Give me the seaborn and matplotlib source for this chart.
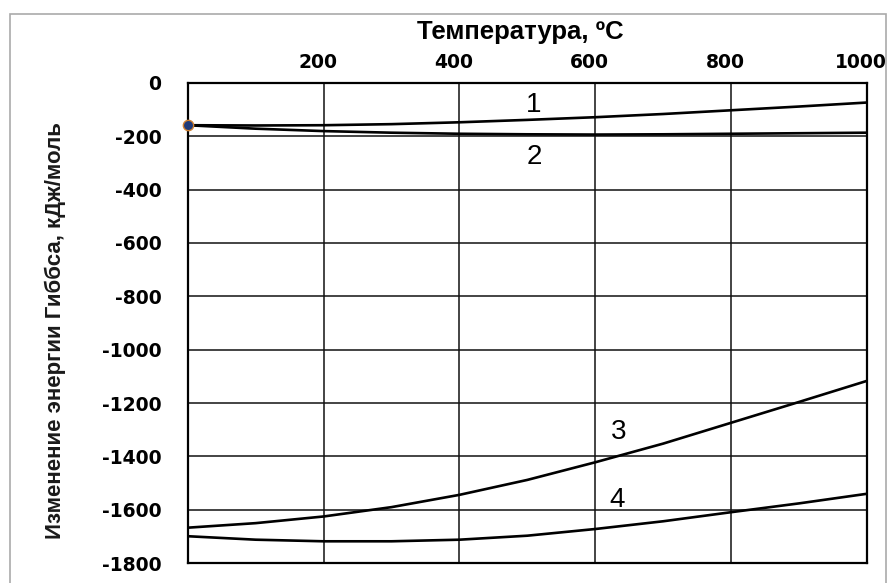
import matplotlib.pyplot as plt
import matplotlib.patches as mpatches
import matplotlib.transforms as mtransforms
import pandas as pd
import seaborn as sns

temperature = [0, 100, 200, 300, 400, 500, 600, 700, 800, 900, 1000]
curve_1 = [-159, -160, -159, -155, -148, -139, -129, -117, -103, -89, -74]
curve_2 = [-159, -172, -181, -187, -191, -193, -194, -193, -191, -189, -187]
curve_3 = [-1667, -1650, -1625, -1590, -1544, -1488, -1422, -1352, -1274, -1196, -1117]
curve_4 = [-1699, -1712, -1718, -1718, -1712, -1697, -1672, -1643, -1609, -1576, -1540]
curve_names = ['1', '2', '3', '4']
label_pos = [(510, -84), (510, -277), (635, -1309), (632, -1562)]

x_ticks = [200, 400, 600, 800, 1000]
y_ticks = list(range(-1800, 1, 200))

rows = []
for name, vals in zip(curve_names, [curve_1, curve_2, curve_3, curve_4]):
    for t, v in zip(temperature, vals):
        rows.append({'t': t, 'dG': v, 'curve': name})
df = pd.DataFrame(rows)

sns.set_style('white')
plt.rcParams['font.family'] = ['Liberation Sans', 'DejaVu Sans']
plt.rcParams['axes.unicode_minus'] = False
plt.rcParams['text.color'] = 'black'
plt.rcParams['xtick.color'] = 'black'
plt.rcParams['ytick.color'] = 'black'

fig = plt.figure(figsize=(8.9, 5.83), dpi=100)
ax = fig.add_axes([0.211, 0.034, 0.763, 0.824])

sns.lineplot(data=df, x='t', y='dG', hue='curve', palette=['black'] * 4,
             linewidth=1.9, legend=False, ax=ax)
sns.scatterplot(x=[temperature[0]], y=[curve_1[0]], ax=ax, s=55,
                color='#1f3a7a', edgecolor='#d08030', linewidth=1.0,
                zorder=5, clip_on=False)

ax.set_xlim(0, 1000)
ax.set_ylim(-1800, 0)
ax.set_xticks(x_ticks)
ax.set_yticks(y_ticks)
ax.set_xlabel('')
ax.set_ylabel('')
ax.xaxis.tick_top()
ax.tick_params(axis='x', length=0, labelsize=13.5, pad=8, labelcolor='black')
ax.tick_params(axis='y', length=0, labelsize=13.5, pad=19, labelcolor='black')
shift = mtransforms.ScaledTranslation(-4 / 72, 0, fig.dpi_scale_trans)
for lab in ax.get_xticklabels():
    lab.set_transform(lab.get_transform() + shift)
for lab in ax.get_xticklabels() + ax.get_yticklabels():
    lab.set_fontweight('bold')
    lab.set_family(['DejaVu Sans'])

ax.grid(True, color='#111111', linewidth=1.1)
for s in ax.spines.values():
    s.set_color('black')
    s.set_linewidth(1.6)

fig.text(520 / 890, 1 - 32 / 583, 'Температура, ºC', fontsize=18.5,
         fontweight='bold', ha='center', va='center', color='black')
fig.text(55 / 890, 1 - 331 / 583, 'Изменение энергии Гиббса, кДж/моль',
         fontsize=16, fontweight='bold', rotation=90, ha='center', va='center',
         color='#1a1a1a')

for name, (x, y) in zip(curve_names, label_pos):
    ax.text(x, y, name, fontsize=20, ha='center', va='center', color='black',
            family=['Liberation Sans Narrow', 'Liberation Sans'])

fig.patches.append(mpatches.Rectangle((0.011, -0.01), 0.985, 0.986,
                                      transform=fig.transFigure, fill=False,
                                      edgecolor='#aaaaaa', linewidth=1.2))

fig.savefig('out.png', dpi=100)
